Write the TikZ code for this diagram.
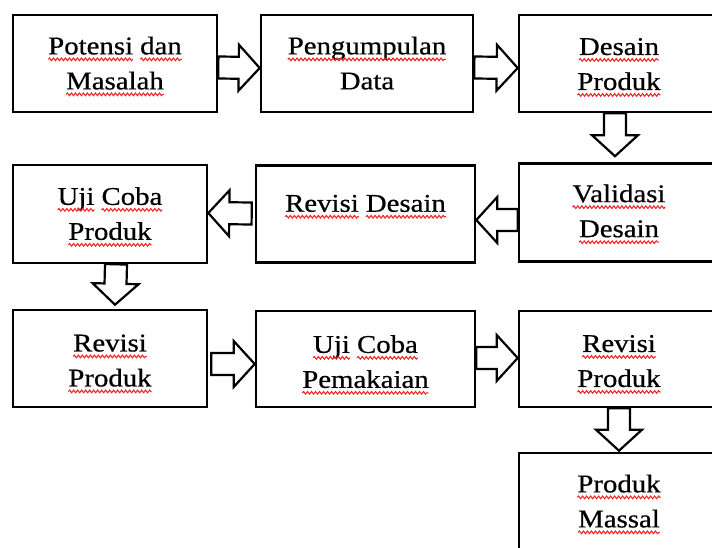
\documentclass[tikz,border=0pt]{standalone}
\usepackage{fontspec}
\setmainfont{Liberation Serif}[FakeStretch=1.13,FakeBold=0.6]
\usetikzlibrary{calc,decorations.pathmorphing}
\definecolor{spell}{RGB}{240,40,40}
\tikzset{
  box/.style={draw=black, line width=2.6pt, fill=white, inner sep=0pt},
  lbl/.style={align=center, inner sep=0pt, text depth=0pt, font=\fontsize{25.5}{35}\selectfont},
  barrow/.style={draw=black, line width=2.2pt, fill=white, line join=miter},
  wave/.style={draw=spell, line width=1.1pt, decorate, decoration={snake, amplitude=1.3pt, segment length=4pt}}
}
\newcommand\sq[1]{\tikz[baseline=(w.base)]{\node[inner sep=0pt, outer sep=0pt] (w) {#1};
  \draw[wave] ($(w.base west)+(0pt,-5pt)$) -- ($(w.base east)+(0pt,-5pt)$);}}
\newcommand\gap{\hspace{6pt}}
\newcommand\barrow[2]{%
  \coordinate (bb) at ($(#2)!21pt!(#1)$);
  \draw[barrow] ($(#1)!11pt!90:(#2)$) -- ($(bb)!11pt!-90:(#1)$) -- ($(bb)!23pt!-90:(#1)$) -- (#2)
    -- ($(bb)!23pt!90:(#1)$) -- ($(bb)!11pt!90:(#1)$) -- ($(#1)!11pt!-90:(#2)$) -- cycle;}
\begin{document}
\begin{tikzpicture}[x=1pt,y=-1pt]
\useasboundingbox[fill=white] (0,0) rectangle (712,547);
% boxes
\node[box, minimum width=204pt, minimum height=97pt] (b1) at (115,63.5) {};
\node[box, minimum width=212pt, minimum height=97pt] (b2) at (367,63.5) {};
\node[box, minimum width=206pt, minimum height=97pt] (b3) at (622,63.5) {};
\node[box, minimum width=206pt, minimum height=98pt] (b6) at (622,212.5) {};
\node[box, minimum width=219pt, minimum height=97pt] (b5) at (365.5,214) {};
\node[box, minimum width=194pt, minimum height=98pt] (b4) at (110,214) {};
\node[box, minimum width=194pt, minimum height=97pt] (b7) at (110,358.5) {};
\node[box, minimum width=219pt, minimum height=96pt] (b8) at (365.5,359) {};
\node[box, minimum width=206pt, minimum height=96pt] (b9) at (622,359) {};
\node[box, minimum width=206pt, minimum height=120pt] (b10) at (622,513) {};
% labels
\node[lbl] (t1) at ($(b1.center)+(0,-0.5)$) {\sq{Potensi}\gap\sq{dan}\\\sq{Masalah}};
\node[lbl] (t2) at ($(b2.center)+(0,-0.5)$) {\sq{Pengumpulan}\\Data};
\node[lbl] (t3) at ($(b3.center)+(-3,0.5)$) {\sq{Desain}\\\sq{Produk}};
\node[lbl] (t6) at ($(b6.center)+(-3,-1.7)$) {\sq{Validasi}\\\sq{Desain}};
\node[lbl] (t5) at ($(b5.center)+(0,-10.7)$) {\sq{Revisi}\gap\sq{Desain}};
\node[lbl] (t4) at ($(b4.center)+(0,-0.5)$) {\sq{Uji}\gap\sq{Coba}\\\sq{Produk}};
\node[lbl] (t7) at ($(b7.center)+(0,2)$) {\sq{Revisi}\\\sq{Produk}};
\node[lbl] (t8) at ($(b8.center)+(0,2.5)$) {\sq{Uji}\gap\sq{Coba}\\\sq{Pemakaian}};
\node[lbl] (t9) at ($(b9.center)+(-3,2)$) {\sq{Revisi}\\\sq{Produk}};
\node[lbl] (t10) at ($(b10.center)+(-3,-12)$) {\sq{Produk}\\\sq{Massal}};
% arrows
\coordinate (s1) at ($(b1.east)+(0,4)$);   \coordinate (e1) at ($(b2.west)+(0,4.5)$);
\coordinate (s2) at ($(b2.east)+(0,4)$);   \coordinate (e2) at ($(b3.west)+(0,4.5)$);
\coordinate (s3) at ($(b3.south)+(-7,0)$); \coordinate (e3) at ($(b6.north)+(-7,-6)$);
\coordinate (s4) at ($(b6.west)+(0,7.5)$); \coordinate (e4) at ($(b5.east)+(0,6)$);
\coordinate (s5) at ($(b5.west)+(-3,-0.5)$); \coordinate (e5) at ($(b4.east)+(0,-1)$);
\coordinate (s6) at ($(b4.south)+(6,0)$);  \coordinate (e6) at ($(b7.north)+(5,-4)$);
\coordinate (s7) at ($(b7.east)+(3,5.5)$); \coordinate (e7) at ($(b8.west)+(0,5)$);
\coordinate (s8) at ($(b8.east)+(0,-1)$);  \coordinate (e8) at ($(b9.west)+(0,-1)$);
\coordinate (s9) at ($(b9.south)+(-3,0)$); \coordinate (e9) at ($(b10.north)+(-3,-1)$);
\barrow{s1}{e1}
\barrow{s2}{e2}
\barrow{s3}{e3}
\barrow{s4}{e4}
\barrow{s5}{e5}
\barrow{s6}{e6}
\barrow{s7}{e7}
\barrow{s8}{e8}
\barrow{s9}{e9}
\end{tikzpicture}
\end{document}
